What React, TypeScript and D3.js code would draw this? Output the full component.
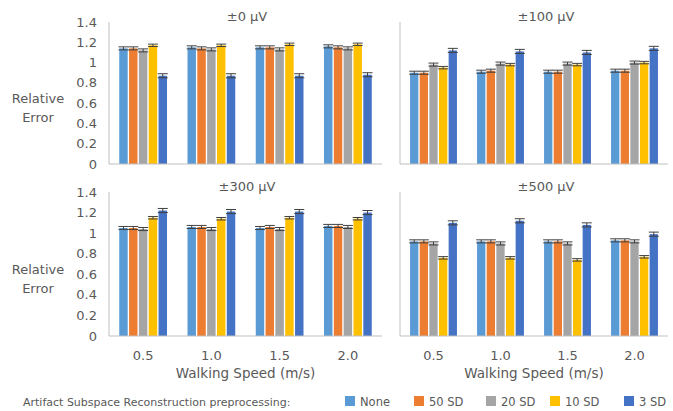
import * as d3 from "d3";

const speeds = ["0.5", "1.0", "1.5", "2.0"];
const methods = ["None", "50 SD", "20 SD", "10 SD", "3 SD"];
const methodColors = ["#5B9BD5", "#ED7D31", "#A5A5A5", "#FFC000", "#4472C4"];
const yTicks = [0, 0.2, 0.4, 0.6, 0.8, 1, 1.2, 1.4];

// rows = method, columns = walking speed
const values0uV = [
  [1.14, 1.15, 1.15, 1.16],
  [1.14, 1.14, 1.15, 1.15],
  [1.12, 1.13, 1.13, 1.14],
  [1.17, 1.17, 1.18, 1.18],
  [0.87, 0.87, 0.87, 0.88],
];
const values100uV = [
  [0.9, 0.91, 0.91, 0.92],
  [0.9, 0.92, 0.91, 0.92],
  [0.98, 0.99, 0.99, 1.0],
  [0.95, 0.98, 0.98, 1.0],
  [1.12, 1.11, 1.1, 1.14],
];
const values300uV = [
  [1.05, 1.06, 1.05, 1.07],
  [1.05, 1.06, 1.06, 1.07],
  [1.04, 1.04, 1.04, 1.06],
  [1.15, 1.14, 1.15, 1.14],
  [1.22, 1.21, 1.21, 1.2],
];
const values500uV = [
  [0.92, 0.92, 0.92, 0.93],
  [0.92, 0.92, 0.92, 0.93],
  [0.9, 0.9, 0.9, 0.92],
  [0.76, 0.76, 0.74, 0.77],
  [1.1, 1.12, 1.08, 0.99],
];
const errorSizes = [0.015, 0.015, 0.015, 0.012, 0.02];

const textColor = "#595959";
const axisColor = "#bfbfbf";
const font = "DejaVu Sans";

const rows = [
  { top: 22, bottom: 164 },
  { top: 192, bottom: 336 },
];
const cols = [
  { left: 109, right: 382, titleX: 247 },
  { left: 400, right: 668, titleX: 546 },
];

const panels = [
  { title: "±0 μV", values: values0uV, row: 0, col: 0 },
  { title: "±100 μV", values: values100uV, row: 0, col: 1 },
  { title: "±300 μV", values: values300uV, row: 1, col: 0 },
  { title: "±500 μV", values: values500uV, row: 1, col: 1 },
];

function Panel({ title, values, row, col }) {
  const r = rows[row];
  const c = cols[col];
  const y = d3.scaleLinear().domain([0, 1.4]).range([r.bottom, r.top]);
  const x0 = d3.scaleBand().domain(speeds).range([c.left, c.right])
    .paddingInner(0.26).paddingOuter(0.13);
  const x1 = d3.scaleBand().domain(methods).range([0, x0.bandwidth()]).padding(0.14);
  const bw = x1.bandwidth();

  return (
    <g>
      <text x={c.titleX} y={r.top - 1} textAnchor="middle" fontSize={13}
        fill={textColor}>{title}</text>
      {col === 0 && yTicks.map((t) => (
        <text key={t} x={97} y={y(t)} dy="0.35em" textAnchor="end" fontSize={13}
          fill={textColor}>{String(+t.toFixed(1))}</text>
      ))}
      {col === 0 && (
        <text x={38} y={(r.top + r.bottom) / 2 + 13} textAnchor="middle" fontSize={13}
          fill={textColor}>
          <tspan x={38} dy="-0.2em">Relative</tspan>
          <tspan x={38} dy="1.4em">Error</tspan>
        </text>
      )}
      <line x1={c.left} x2={c.left} y1={r.top} y2={r.bottom} stroke={axisColor} />
      {speeds.map((s, si) => (
        <g key={s} transform={`translate(${x0(s)},0)`}>
          {methods.map((m, mi) => {
            const v = values[mi][si];
            const bx = x1(m);
            const e = errorSizes[mi];
            const cx = bx + bw / 2;
            return (
              <g key={m}>
                <rect x={bx} y={y(v)} width={bw} height={y(0) - y(v)} fill={methodColors[mi]} />
                <g stroke="#404040" strokeWidth={1}>
                  <line x1={cx} x2={cx} y1={y(v + e)} y2={y(v - e)} />
                  <line x1={cx - 5} x2={cx + 5} y1={y(v + e)} y2={y(v + e)} />
                  <line x1={cx - 5} x2={cx + 5} y1={y(v - e)} y2={y(v - e)} />
                </g>
              </g>
            );
          })}
        </g>
      ))}
      <line x1={c.left} x2={c.right} y1={r.bottom} y2={r.bottom} stroke={axisColor} />
      {row === 1 && speeds.map((s) => (
        <text key={s} x={x0(s) + x0.bandwidth() / 2} y={360} textAnchor="middle"
          fontSize={13} fill={textColor}>{s}</text>
      ))}
      {row === 1 && (
        <text x={(c.left + c.right) / 2} y={378} textAnchor="middle" fontSize={13.5}
          fill={textColor}>Walking Speed (m/s)</text>
      )}
    </g>
  );
}

const legendX = [345, 414, 486, 550, 624];

export default function App() {
  return (
    <svg width={673} height={411} style={{ position: "absolute", left: 0, top: 0 }}
      fontFamily={font}>
      <rect width={673} height={411} fill="#fff" />
      {panels.map((p) => <Panel key={p.title} {...p} />)}
      <text x={23} y={406} fontSize={11} fill={textColor}>
        Artifact Subspace Reconstruction preprocessing:
      </text>
      {methods.map((m, i) => (
        <g key={m}>
          <rect x={legendX[i]} y={396} width={10} height={10} fill={methodColors[i]} />
          <text x={legendX[i] + 15} y={406} fontSize={11.5} fill={textColor}>{m}</text>
        </g>
      ))}
    </svg>
  );
}
